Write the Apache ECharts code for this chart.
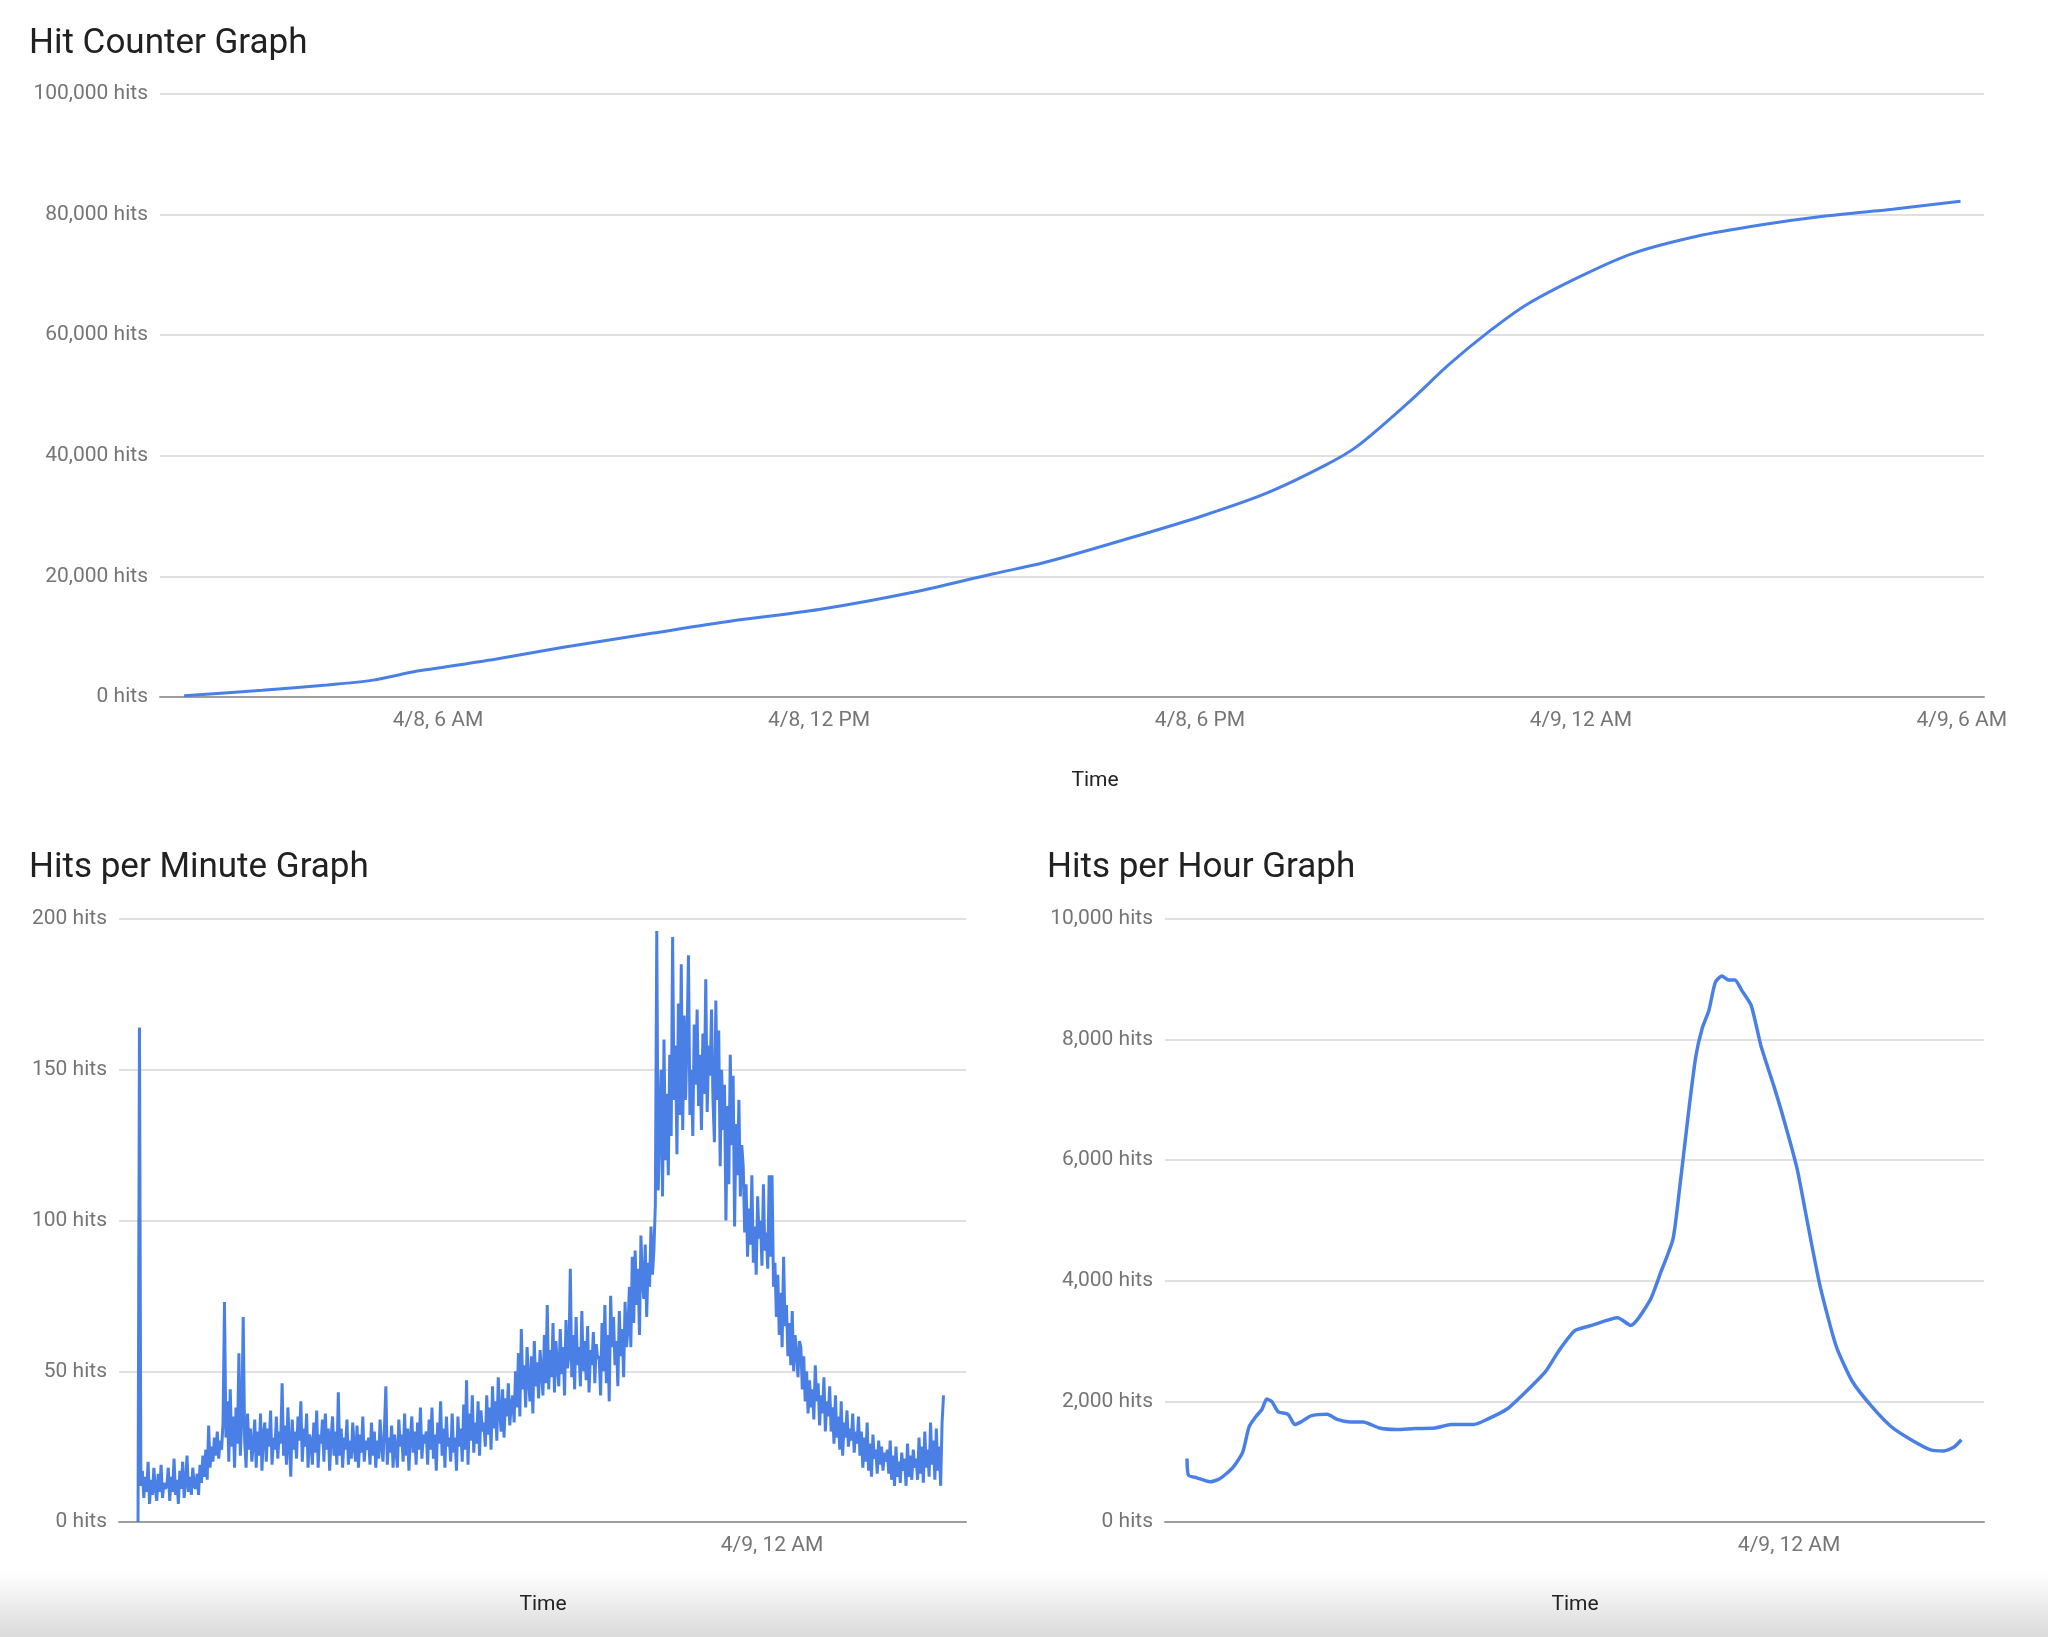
<!DOCTYPE html>
<html>
<head>
<meta charset="utf-8">
<title>Hit Counter Graph</title>
<script src="https://cdn.jsdelivr.net/npm/echarts@6/dist/echarts.min.js"></script>
<style>
  html, body { margin: 0; padding: 0; }
  #chart {
    width: 2048px; height: 1637px;
    background: linear-gradient(to bottom, #fff 0, #fff 1572px, #dadada 1637px);
  }
</style>
</head>
<body>
<div id="chart"></div>
<script>
// times are hours since 4/8 00:00 (24 = 4/9 12 AM)

// cumulative hit counter
var counterTimes = [2.0, 3.23, 4.25, 4.97, 5.67, 6.0, 6.92, 7.95, 9.39, 10.62, 12.0, 13.5, 14.73, 15.55, 16.78,
  18.0, 19.05, 19.97, 20.48, 21.3, 21.92, 22.54, 23.15, 24.0, 24.8, 25.83, 26.85, 27.88, 28.91, 29.98];
var counterHits = [200, 1100, 2000, 2800, 4300, 4800, 6300, 8200, 10600, 12600, 14500, 17400, 20400, 22300, 26000,
  29900, 33800, 38400, 41600, 49000, 55100, 60500, 65100, 69800, 73500, 76400, 78300, 79800, 80900, 82200];

// hits per minute, one row per hour starting 4/8 2 AM, one value every 3 minutes
var minuteStart = 2;
var minuteValues = [
  [0, 164, 12, 17, 8, 15, 10, 20, 6, 14, 9, 18, 11, 7, 16, 10, 19, 8, 13, 11],
  [12, 18, 7, 15, 10, 21, 9, 14, 6, 17, 11, 20, 8, 13, 22, 10, 15, 9, 18, 12],
  [11, 16, 9, 19, 13, 22, 15, 24, 14, 32, 18, 25, 20, 28, 22, 30, 21, 27, 24, 33],
  [73, 28, 40, 20, 44, 25, 35, 18, 38, 26, 56, 22, 34, 68, 27, 18, 36, 24, 31, 20],
  [26, 34, 18, 30, 22, 36, 17, 29, 33, 20, 31, 25, 37, 19, 28, 24, 35, 21, 30, 26],
  [46, 22, 32, 19, 38, 26, 15, 34, 24, 30, 21, 35, 27, 40, 20, 31, 25, 36, 18, 29],
  [27, 19, 33, 23, 37, 18, 29, 26, 34, 20, 36, 24, 31, 17, 28, 35, 22, 30, 19, 43],
  [22, 31, 18, 28, 24, 34, 19, 27, 21, 33, 25, 20, 32, 18, 29, 23, 35, 20, 27, 24],
  [28, 19, 33, 22, 30, 18, 27, 21, 34, 25, 20, 31, 45, 19, 28, 23, 32, 18, 29, 24],
  [18, 34, 25, 29, 20, 36, 22, 31, 17, 28, 35, 23, 30, 19, 33, 24, 38, 21, 29, 26],
  [30, 19, 34, 24, 38, 21, 29, 17, 33, 26, 40, 22, 31, 18, 35, 25, 28, 20, 36, 23],
  [28, 17, 35, 25, 31, 20, 39, 24, 47, 19, 36, 27, 42, 23, 33, 26, 40, 22, 37, 30],
  [33, 25, 42, 29, 38, 24, 45, 31, 40, 27, 48, 36, 30, 44, 28, 41, 35, 46, 32, 39],
  [42, 33, 50, 38, 56, 35, 64, 44, 52, 38, 58, 47, 40, 55, 36, 60, 45, 53, 41, 57],
  [50, 42, 62, 46, 72, 44, 57, 48, 66, 43, 60, 52, 45, 64, 49, 58, 42, 67, 51, 55],
  [84, 48, 62, 44, 68, 52, 58, 45, 70, 50, 60, 47, 65, 43, 57, 52, 63, 46, 59, 54],
  [55, 42, 66, 50, 72, 46, 62, 40, 75, 58, 68, 52, 60, 45, 70, 55, 64, 48, 73, 58],
  [64, 78, 58, 88, 66, 90, 72, 84, 62, 95, 80, 74, 92, 68, 86, 78, 98, 82, 90, 105],
  [196, 110, 130, 150, 108, 160, 120, 142, 115, 155, 128, 194, 140, 158, 122, 172, 135, 185, 130, 168],
  [140, 160, 188, 135, 150, 128, 165, 145, 170, 138, 155, 130, 162, 142, 180, 136, 158, 148, 170, 140],
  [126, 173, 140, 163, 118, 150, 130, 145, 100, 138, 112, 155, 125, 148, 98, 132, 115, 140, 108, 125],
  [118, 96, 112, 88, 104, 92, 115, 86, 98, 82, 108, 94, 100, 85, 112, 90, 96, 84, 115, 88],
  [115, 78, 86, 68, 82, 62, 76, 58, 88, 65, 72, 55, 66, 52, 70, 50, 62, 56, 48, 60],
  [58, 44, 55, 40, 50, 36, 47, 38, 44, 34, 52, 40, 46, 32, 42, 36, 48, 30, 40, 35],
  [45, 30, 38, 26, 42, 28, 35, 24, 40, 22, 33, 28, 37, 25, 31, 27, 36, 23, 30, 26],
  [35, 22, 30, 18, 28, 20, 33, 17, 26, 15, 29, 21, 24, 16, 27, 19, 25, 17, 23, 20],
  [24, 16, 27, 14, 22, 12, 25, 15, 20, 13, 23, 17, 21, 12, 26, 15, 22, 14, 24, 18],
  [21, 14, 28, 16, 25, 13, 30, 18, 24, 15, 33, 19, 27, 14, 31, 17, 25, 12, 33, 42]
];

// hits per hour (trailing hour)
var hourTimes = [3.21, 3.26, 3.55, 4.0, 4.34, 4.79, 5.13, 5.35, 5.58, 5.8, 5.96, 6.14, 6.36, 6.7, 6.93, 7.15,
  7.49, 8.05, 8.39, 8.84, 9.29, 9.86, 10.42, 11.09, 11.77, 12.33, 13.12, 13.57, 14.25, 14.92, 15.6, 16.05,
  16.61, 17.18, 18.08, 18.53, 19.2, 19.54, 19.99, 20.22, 20.55, 20.78, 21.0, 21.23, 21.45, 21.68, 21.91,
  22.13, 22.36, 22.69, 23.03, 23.48, 23.82, 24.27, 24.61, 25.06, 25.62, 26.18, 26.86, 27.54, 28.21, 28.89,
  29.34, 29.68, 29.95];
var hourValues = [1053, 775, 733, 666, 716, 901, 1154, 1575, 1744, 1870, 2039, 1997, 1828, 1786, 1617, 1660,
  1761, 1786, 1702, 1660, 1660, 1558, 1533, 1550, 1558, 1617, 1617, 1702, 1870, 2165, 2502, 2839,
  3176, 3260, 3387, 3260, 3681, 4103, 4692, 5535, 6883, 7725, 8189, 8483, 8947, 9056, 8989,
  8989, 8821, 8568, 7894, 7220, 6672, 5872, 5029, 3934, 2923, 2334, 1912, 1575, 1365, 1196,
  1179, 1238, 1365];

var topTicks = [6, 12, 18, 24, 30];
var bottomTicks = [24];

var lineColor = '#4a80e6';
var font = 'Roboto';

function timeLabel(h) {
  var day = h < 24 ? 8 : 9;
  var hh = h % 24;
  var h12 = hh % 12 === 0 ? 12 : hh % 12;
  return '4/' + day + ', ' + h12 + ' ' + (hh < 12 ? 'AM' : 'PM');
}
function hitsLabel(v) {
  return v.toLocaleString('en-US') + ' hits';
}
function pairs(xs, ys) {
  return xs.map(function (x, i) { return [x, ys[i]]; });
}

var minuteData = [];
minuteValues.forEach(function (row, r) {
  row.forEach(function (v, i) {
    minuteData.push([minuteStart + r + i / row.length, v]);
  });
});

function xAxis(idx, min, max, ticks) {
  return {
    type: 'value', gridIndex: idx, min: min, max: max,
    splitLine: { show: false },
    axisTick: { show: false },
    axisLine: { show: true, lineStyle: { color: '#9e9e9e', width: 2 } },
    axisLabel: {
      customValues: ticks, formatter: timeLabel, margin: 13,
      color: '#757575', fontSize: 21, fontFamily: font
    }
  };
}
function yAxis(idx, max, interval) {
  return {
    type: 'value', gridIndex: idx, min: 0, max: max, interval: interval,
    axisLine: { show: false }, axisTick: { show: false },
    splitLine: { lineStyle: { color: '#e0e0e0', width: 2 } },
    axisLabel: { formatter: hitsLabel, margin: 12, color: '#757575', fontSize: 21, fontFamily: font }
  };
}
function titleText(text, left, top) {
  return { text: text, left: left, top: top,
    textStyle: { fontSize: 35, fontWeight: 'normal', color: '#212121', fontFamily: font } };
}
function axisTitle(left, top) {
  return { text: 'Time', left: left, top: top, textAlign: 'center',
    textStyle: { fontSize: 21, fontWeight: 'normal', color: '#222', fontFamily: font } };
}

var chart = echarts.init(document.getElementById('chart'));
chart.setOption({
  animation: false,
  title: [
    titleText('Hit Counter Graph', 24, 22),
    titleText('Hits per Minute Graph', 24, 846),
    titleText('Hits per Hour Graph', 1042, 846),
    axisTitle(1090, 765),
    axisTitle(538, 1589),
    axisTitle(1570, 1589)
  ],
  grid: [
    { left: 160, top: 94, width: 1824, height: 603 },
    { left: 119, top: 919, width: 847, height: 603 },
    { left: 1165, top: 919, width: 819, height: 603 }
  ],
  xAxis: [
    xAxis(0, 1.62, 30.35, topTicks),
    xAxis(1, 1.34, 30.73, bottomTicks),
    xAxis(2, 2.45, 30.73, bottomTicks)
  ],
  yAxis: [
    yAxis(0, 100000, 20000),
    yAxis(1, 200, 50),
    yAxis(2, 10000, 2000)
  ],
  series: [
    { type: 'line', xAxisIndex: 0, yAxisIndex: 0, data: pairs(counterTimes, counterHits),
      showSymbol: false, smooth: 0.3, lineStyle: { color: lineColor, width: 3 } },
    { type: 'line', xAxisIndex: 1, yAxisIndex: 1, data: minuteData,
      showSymbol: false, lineStyle: { color: lineColor, width: 3 } },
    { type: 'line', xAxisIndex: 2, yAxisIndex: 2, data: pairs(hourTimes, hourValues),
      showSymbol: false, smooth: 0.2, lineStyle: { color: lineColor, width: 3.5 } }
  ]
});
</script>
</body>
</html>
